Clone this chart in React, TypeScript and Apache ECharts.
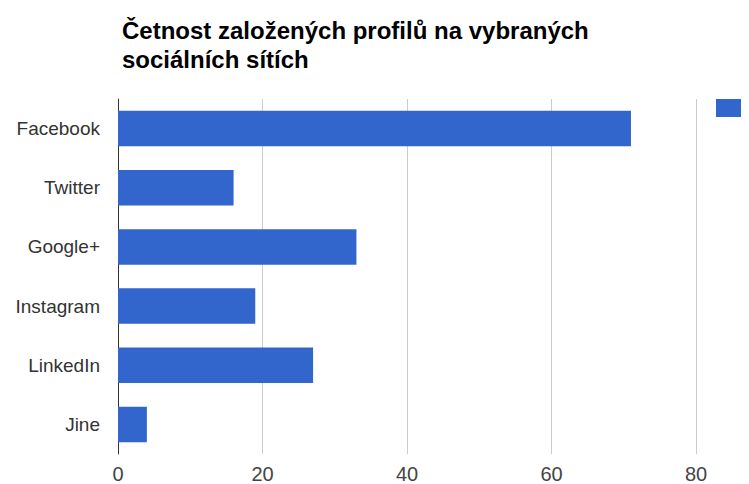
import React, { useEffect, useRef } from "react";
import * as echarts from "echarts";

const categories = ["Facebook", "Twitter", "Google+", "Instagram", "LinkedIn", "Jine"];
const values = [71, 16, 33, 19, 27, 4];
const seriesName = "Četnost";
const titleText = "Četnost založených profilů na vybraných\nsociálních sítích";

export default function App() {
  const ref = useRef<HTMLDivElement>(null);
  useEffect(() => {
    if (!ref.current) return;
    const chart = echarts.init(ref.current, undefined, { renderer: "svg" });
    chart.setOption({
      animation: false,
      backgroundColor: "#ffffff",
      textStyle: { fontFamily: "Liberation Sans, Arial, sans-serif" },
      title: {
        text: titleText,
        left: 109,
        top: 3,
        textStyle: { fontSize: 24, fontWeight: "bold", color: "#000000", lineHeight: 29 },
      },
      legend: {
        left: 703,
        top: 86,
        itemWidth: 40,
        itemHeight: 18,
        icon: "rect",
        data: [seriesName],
        formatter: () => "",
        textStyle: { fontSize: 19, color: "#222222" },
      },
      grid: { left: 110, top: 91, width: 578, height: 358, containLabel: false },
      xAxis: {
        type: "value",
        min: 0,
        max: 80,
        interval: 20,
        axisLine: { show: false },
        axisTick: { show: false },
        splitLine: { show: true, lineStyle: { color: "#cccccc", width: 1 } },
        axisLabel: { fontSize: 20, color: "#444444", margin: 10 },
      },
      yAxis: {
        type: "category",
        inverse: true,
        data: categories,
        axisLine: { show: true, onZero: false, lineStyle: { color: "#333333", width: 1 } },
        axisTick: { show: false },
        axisLabel: { fontSize: 19, color: "#333333", margin: 18 },
      },
      series: [
        {
          name: seriesName,
          type: "bar",
          data: values,
          barCategoryGap: "40%",
          itemStyle: { color: "#3366cc" },
        },
      ],
    });
    return () => chart.dispose();
  }, []);
  return <div ref={ref} style={{ width: 733, height: 476 }} />;
}
